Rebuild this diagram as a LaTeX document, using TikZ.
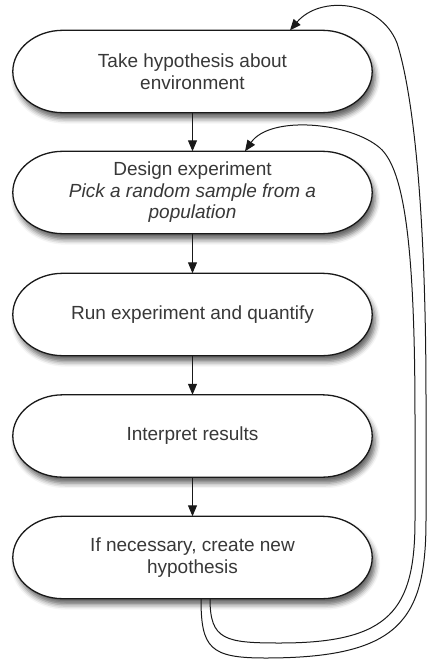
\documentclass[tikz,border=0pt]{standalone}
\usepackage{fontspec}
\setmainfont{Liberation Sans}
\usetikzlibrary{arrows.meta,shadows.blur,backgrounds}

\begin{document}
\begin{tikzpicture}[x=1pt,y=-1pt,
  stage/.style={minimum width=359pt,minimum height=82pt,inner sep=0pt,
    align=center,text=black!78,font=\fontsize{19pt}{21.5pt}\selectfont},
  pill/.style={draw=black!90,line width=1.3pt,fill=white,
    blur shadow={shadow xshift=3pt,shadow yshift=-6pt,shadow blur radius=5pt,shadow opacity=60}},
  flow/.style={draw=black!90,line width=1pt,-{Triangle[length=11pt,width=9pt]}},
]
\useasboundingbox (0,0) rectangle (430,659);

% process stages
\node[stage] (b1) at (192.5,71.5) {Take hypothesis about\\environment};
\node[stage] (b2) at (192.5,192.5) {Design experiment\\\textit{Pick a random sample from a}\\\textit{population}};
\node[stage] (b3) at (192.5,314.5) {Run experiment and quantify};
\node[stage] (b4) at (192.5,436) {Interpret results};
\node[stage] (b5) at (192.5,557.5) {If necessary, create new\\hypothesis};

% pill outlines with elliptical ends, behind the text
\begin{scope}[on background layer]
\foreach \n in {b1,b2,b3,b4,b5}{
  \draw[pill] ([xshift=50pt]\n.north west) -- ([xshift=-50pt]\n.north east)
    .. controls ([xshift=-22.4pt]\n.north east) and ([yshift=22.6pt]\n.east) .. (\n.east)
    .. controls ([yshift=-22.6pt]\n.east) and ([xshift=-22.4pt]\n.south east) .. ([xshift=-50pt]\n.south east)
    -- ([xshift=50pt]\n.south west)
    .. controls ([xshift=22.4pt]\n.south west) and ([yshift=-22.6pt]\n.west) .. (\n.west)
    .. controls ([yshift=22.6pt]\n.west) and ([xshift=22.4pt]\n.north west) .. ([xshift=50pt]\n.north west)
    -- cycle;
}
\end{scope}

% main sequence
\draw[flow] (b1.south) -- (b2.north);
\draw[flow] (b2.south) -- (b3.north);
\draw[flow] (b3.south) -- (b4.north);
\draw[flow] (b4.south) -- (b5.north);

% feedback loops
\draw[flow] ([xshift=8.5pt]b5.south) .. controls (201,648) and (210,658) .. (265,658)
  .. controls (400,658) and (426,620) .. (426,520) -- (426,400)
  .. controls (426,200) and (412,90) .. (397,43)
  .. controls (380,0) and (320,-5) .. ([xshift=97.5pt]b1.north);
\draw[flow] ([xshift=17.5pt]b5.south) .. controls (210,640) and (225,643) .. (280,643)
  .. controls (390,643) and (415,610) .. (415,520) -- (415,420)
  .. controls (415,250) and (405,170) .. (380,148)
  .. controls (350,122) and (270,115) .. ([xshift=52.5pt]b2.north);
\end{tikzpicture}
\end{document}
